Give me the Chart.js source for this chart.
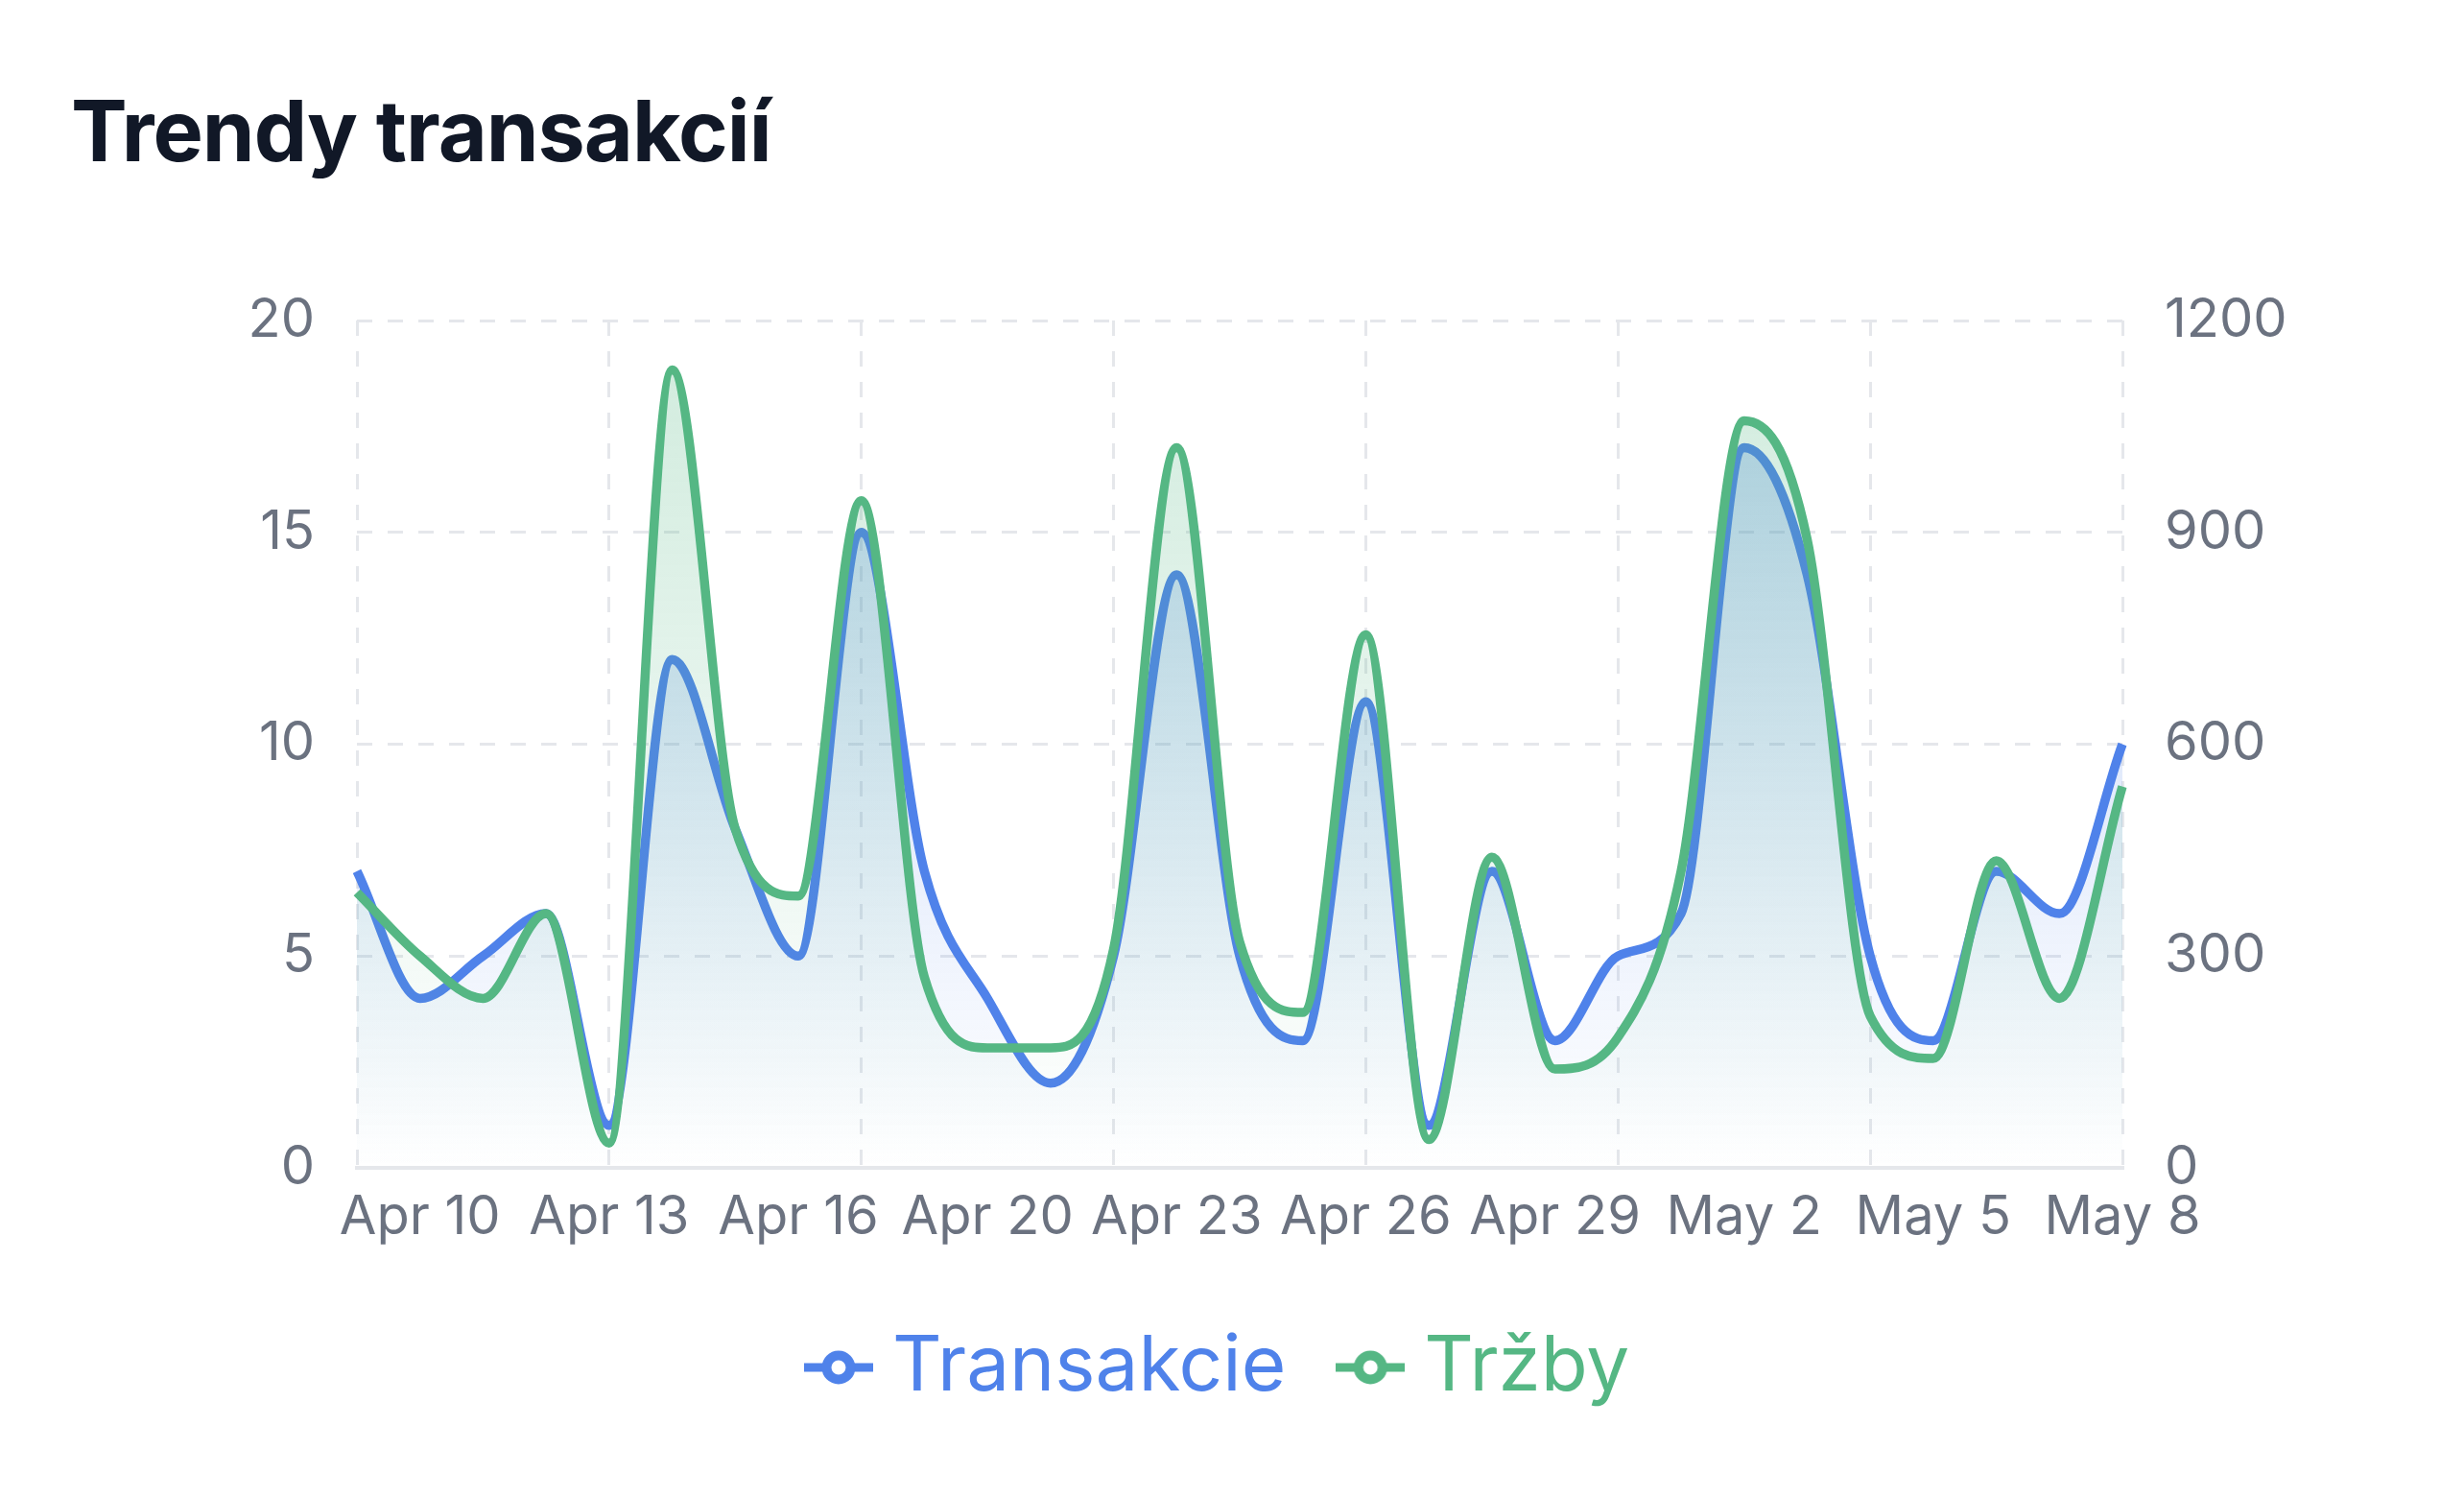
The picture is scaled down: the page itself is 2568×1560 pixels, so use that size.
<!DOCTYPE html>
<html lang="sk">
<head>
<meta charset="utf-8">
<title>Trendy transakcií</title>
<script src="https://cdn.jsdelivr.net/npm/chart.js@4.4.1/dist/chart.umd.min.js"></script>
<style>
  html, body { margin: 0; padding: 0; background: #fff; }
  body { width: 2568px; height: 1560px; position: relative; overflow: hidden; font-family: Inter, sans-serif; }
  h2 {
    position: absolute; left: 74px; top: 92px; margin: 0; z-index: 2;
    font-size: 88px; line-height: 1; font-weight: 700; color: #111827; letter-spacing: -1px;
  }
  .chart-box { position: absolute; left: 0; top: 0; width: 2568px; height: 1560px; }
</style>
</head>
<body>
<h2>Trendy transakcií</h2>
<div class="chart-box"><canvas id="trendChart"></canvas></div>

<script>
// one point per day (Apr 19 has no record)
const dates = [
  'Apr 9', 'Apr 10', 'Apr 11', 'Apr 12', 'Apr 13', 'Apr 14', 'Apr 15', 'Apr 16',
  'Apr 17', 'Apr 18', 'Apr 20', 'Apr 21', 'Apr 22', 'Apr 23', 'Apr 24', 'Apr 25',
  'Apr 26', 'Apr 27', 'Apr 28', 'Apr 29', 'Apr 30', 'May 1', 'May 2', 'May 3',
  'May 4', 'May 5', 'May 6', 'May 7', 'May 8'
];
const transakcie = [7, 4, 5, 6, 1, 12, 8, 5, 15, 7, 4, 2, 5, 14, 5, 3, 11, 1, 7, 3, 5, 6, 17, 14, 5, 3, 7, 6, 10];
const trzby = [390, 300, 240, 360, 35, 1130, 480, 385, 945, 270, 170, 170, 310, 1020, 320, 220, 755, 40, 440, 140, 185, 420, 1058, 890, 215, 155, 435, 240, 540];

const countTicks = [0, 5, 10, 15, 20];
const revenueTicks = [0, 300, 600, 900, 1200];

const BLUE = '#4f82ea';
const GREEN = '#55b784';
const GRID = '#e5e7eb';
const TICK = '#6b7280';

function areaFill(rgb, topAlpha) {
  return (ctx) => {
    const area = ctx.chart.chartArea;
    if (!area) return `rgba(${rgb},${topAlpha})`;
    const g = ctx.chart.ctx.createLinearGradient(0, area.top, 0, area.bottom);
    g.addColorStop(0, `rgba(${rgb},${topAlpha})`);
    g.addColorStop(1, `rgba(${rgb},0)`);
    return g;
  };
}

// "-o-" marker used in the legend
function legendIcon(color) {
  const c = document.createElement('canvas');
  c.width = 72;
  c.height = 40;
  const g = c.getContext('2d');
  g.strokeStyle = color;
  g.lineWidth = 9;
  g.beginPath();
  g.moveTo(0, 20);
  g.lineTo(72, 20);
  g.stroke();
  g.beginPath();
  g.arc(36, 20, 12.5, 0, Math.PI * 2);
  g.fillStyle = '#fff';
  g.fill();
  g.lineWidth = 10;
  g.stroke();
  return c;
}

function setTicks(values) {
  return (scale) => { scale.ticks = values.map(v => ({ value: v })); };
}

Chart.defaults.font.family = 'Inter, sans-serif';

new Chart(document.getElementById('trendChart'), {
  type: 'line',
  data: {
    labels: dates,
    datasets: [
      {
        label: 'Transakcie',
        data: transakcie,
        yAxisID: 'y',
        borderColor: BLUE,
        borderWidth: 9.5,
        backgroundColor: areaFill('79,130,234', 0.35),
        fill: 'origin',
        cubicInterpolationMode: 'monotone',
        pointRadius: 0,
        order: 1
      },
      {
        label: 'Tržby',
        data: trzby,
        yAxisID: 'y1',
        borderColor: GREEN,
        borderWidth: 9.5,
        backgroundColor: areaFill('85,183,132', 0.28),
        fill: 'origin',
        cubicInterpolationMode: 'monotone',
        pointRadius: 0,
        order: 0
      }
    ]
  },
  options: {
    responsive: true,
    maintainAspectRatio: false,
    animation: false,
    events: [],
    layout: { padding: { top: 334, bottom: 85, left: 0, right: 12 } },
    scales: {
      x: {
        afterFit: (s) => { s.height = 96; },
        grid: {
          color: (c) => (c.index % 4 === 0 ? GRID : 'transparent'),
          lineWidth: 3,
          drawTicks: false
        },
        border: { display: true, color: GRID, width: 4, dash: [16, 16] },
        ticks: {
          autoSkip: false,
          maxRotation: 0,
          minRotation: 0,
          padding: 19,
          color: TICK,
          font: { size: 56 },
          callback: (v, i) => ((dates.length - 1 - i) % 3 === 0 ? dates[i] : '')
        }
      },
      y: {
        position: 'left',
        min: 0,
        max: 20,
        afterFit: (s) => { s.width = 372; },
        afterBuildTicks: setTicks(countTicks),
        grid: { color: GRID, lineWidth: 3, drawTicks: false },
        border: { display: false, dash: [16, 16] },
        ticks: { padding: 44, color: TICK, font: { size: 56 } }
      },
      y1: {
        position: 'right',
        min: 0,
        max: 1200,
        afterFit: (s) => { s.width = 344; },
        afterBuildTicks: setTicks(revenueTicks),
        grid: { drawOnChartArea: false, drawTicks: false },
        border: { display: false },
        ticks: { padding: 44, color: TICK, font: { size: 56 }, callback: (v) => String(v) }
      }
    },
    plugins: {
      tooltip: { enabled: false },
      legend: {
        position: 'bottom',
        labels: {
          usePointStyle: true,
          pointStyleWidth: 32,
          padding: 72,
          font: { size: 80 },
          generateLabels: (chart) => chart.data.datasets.map((ds, i) => ({
            text: ds.label,
            fontColor: ds.borderColor,
            fillStyle: ds.borderColor,
            strokeStyle: ds.borderColor,
            lineWidth: 0,
            pointStyle: legendIcon(ds.borderColor),
            hidden: false,
            datasetIndex: i
          }))
        }
      }
    }
  }
});
</script>
</body>
</html>
